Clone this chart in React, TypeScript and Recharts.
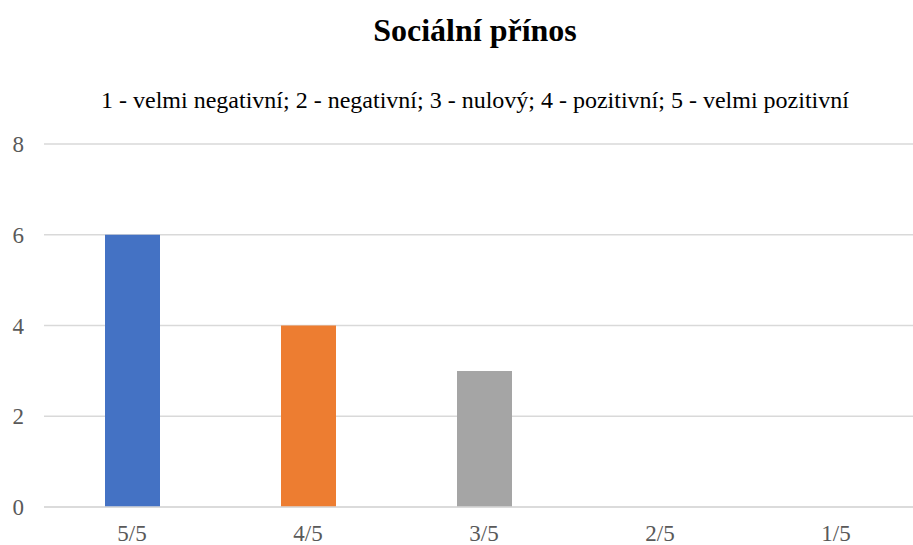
import React from "react";
import { BarChart, Bar, XAxis, YAxis, CartesianGrid, Cell } from "recharts";

const categories = ["5/5", "4/5", "3/5", "2/5", "1/5"];
const counts = [6, 4, 3, 0, 0];
const barColors = ["#4472C4", "#ED7D31", "#A5A5A5", "#FFC000", "#5B9BD5"];
const yTicks = [0, 2, 4, 6, 8];

const data = categories.map((name, i) => ({ name, value: counts[i] }));

const FONT = "'Liberation Serif', 'Times New Roman', serif";

export default function App() {
  return (
    <div
      style={{
        position: "absolute",
        left: 0,
        top: 0,
        width: 913,
        height: 545,
        overflow: "hidden",
        background: "#fff",
        fontFamily: FONT,
      }}
    >
      <div
        style={{
          position: "absolute",
          left: 0,
          width: 950,
          top: 12,
          textAlign: "center",
          fontSize: 32,
          lineHeight: "37px",
          fontWeight: "bold",
          color: "#000",
        }}
      >
        Sociální přínos
      </div>
      <div
        style={{
          position: "absolute",
          left: 0,
          width: 950,
          top: 86,
          textAlign: "center",
          fontSize: 24,
          lineHeight: "28px",
          color: "#000",
        }}
      >
        1 - velmi negativní; 2 - negativní; 3 - nulový; 4 - pozitivní; 5 - velmi pozitivní
      </div>
      <div style={{ position: "absolute", left: 0, top: 0 }}>
        <BarChart
          width={930}
          height={545}
          data={data}
          margin={{ top: 144, right: 6, bottom: 8, left: 0 }}
        >
          <CartesianGrid vertical={false} stroke="#d9d9d9" strokeWidth={1.5} />
          <XAxis
            dataKey="name"
            height={30}
            axisLine={{ stroke: "#d9d9d9", strokeWidth: 1.5 }}
            tickLine={false}
            tickMargin={12}
            tick={{ fill: "#595959", fontSize: 23, fontFamily: FONT }}
          />
          <YAxis
            width={44}
            domain={[0, 8]}
            ticks={yTicks}
            axisLine={false}
            tickLine={false}
            tickMargin={14}
            tick={{ fill: "#595959", fontSize: 23, fontFamily: FONT }}
          />
          <Bar dataKey="value" barSize={55} isAnimationActive={false}>
            {data.map((d, i) => (
              <Cell key={d.name} fill={barColors[i]} />
            ))}
          </Bar>
        </BarChart>
      </div>
    </div>
  );
}
